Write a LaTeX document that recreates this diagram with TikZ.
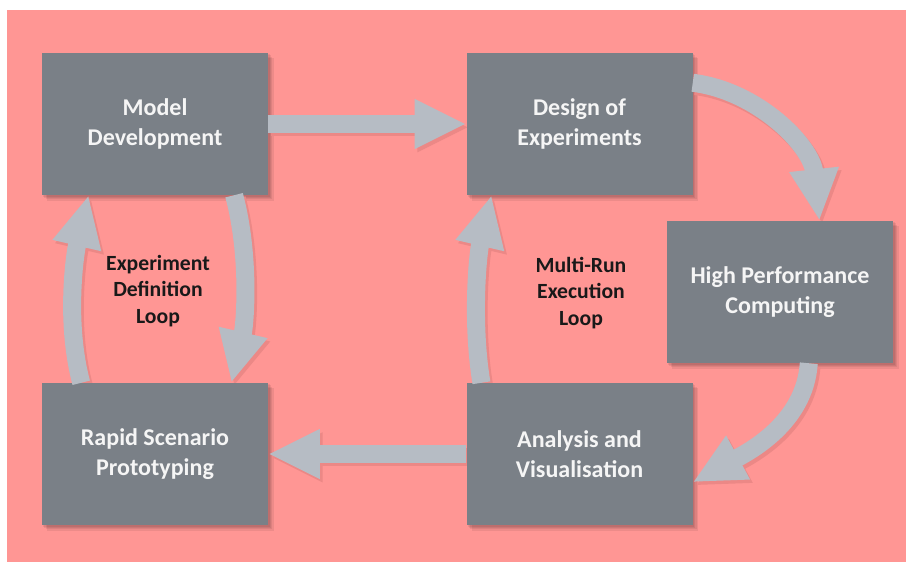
\documentclass[tikz,border=0pt]{standalone}
\usepackage{fontspec}
\setmainfont{Carlito}
\usetikzlibrary{arrows.meta}
\definecolor{salmon}{RGB}{255,150,148}
\definecolor{boxgray}{RGB}{122,128,135}
\definecolor{arrowgray}{RGB}{182,188,196}
\definecolor{shadepink}{RGB}{236,136,134}
\pgfdeclarelayer{back}
\pgfdeclarelayer{shade}
\pgfsetlayers{back,shade,main}
\tikzset{
  box/.style={fill=boxgray, text=white!96!black, minimum width=6.78cm, minimum height=4.26cm,
    inner sep=0pt, align=center, font=\fontsize{20.5}{25.5}\selectfont\bfseries,
    execute at begin node={\rule{0pt}{22pt}}},
  boxshade/.style={fill=black, opacity=0.07},
  looplabel/.style={align=center, text=black!90, font=\fontsize{18.5}{22.5}\selectfont\bfseries},
  flow/.style={draw=arrowgray, line width=0.54cm, -{Triangle[width=1.38cm,length=1.55cm]}},
  flowshade/.style={flow, draw=shadepink, transform canvas={shift={(0.08cm,-0.1cm)}}}
}
\newcommand\flowarrow[1]{%
  \begin{pgfonlayer}{shade}\draw[flowshade] #1;\end{pgfonlayer}
  \draw[flow] #1;}

\begin{document}
\begin{tikzpicture}[x=0.03cm, y=-0.03cm]
\useasboundingbox (0,0) rectangle (906,561);
\begin{pgfonlayer}{back}
  \fill[white] (0,0) rectangle (906,561);
  \fill[salmon] (7,10) rectangle (915,570);
\end{pgfonlayer}

% Boxes, with a soft shadow
\foreach \name/\x/\y/\txt in {model/155/124/{Model\\Development},
    design/579.5/124/{Design of\\Experiments},
    hpc/780/292/{High Performance\\Computing},
    analysis/579.5/454/{Analysis and\\Visualisation},
    rapid/155/454/{Rapid Scenario\\Prototyping}} {
  \node[box] (\name) at (\x,\y) {\txt};
  \begin{pgfonlayer}{shade}
    \foreach \d in {0.04,0.08,0.12,0.16}
      \fill[boxshade] ([shift={(\d cm,-\d cm)}]\name.south west) rectangle ([shift={(\d cm,-\d cm)}]\name.north east);
  \end{pgfonlayer}
}

% Loop names
\node[looplabel] (defloop) at (158,291) {Experiment\\Definition\\Loop};
\node[looplabel] (runloop) at (581,293) {Multi-Run\\Execution\\Loop};

% Outer cycle
\flowarrow{(model.east) -- (design.west)}
\flowarrow{(design.20) .. controls +(65,8) and +(-8,-75) .. (hpc.61)}
\flowarrow{(hpc.-68) .. controls +(-4,60) and +(55,-30) .. (analysis.-14)}
\flowarrow{(analysis.west) -- (rapid.east)}

% Inner loops
\flowarrow{(model.-42) .. controls +(16,60) and +(14,-60) .. (rapid.43)}
\flowarrow{(rapid.136) .. controls +(-16,-60) and +(-14,60) .. (model.227)}
\flowarrow{(analysis.144) .. controls +(-10,-60) and +(-14,60) .. (design.219)}
\end{tikzpicture}
\end{document}
